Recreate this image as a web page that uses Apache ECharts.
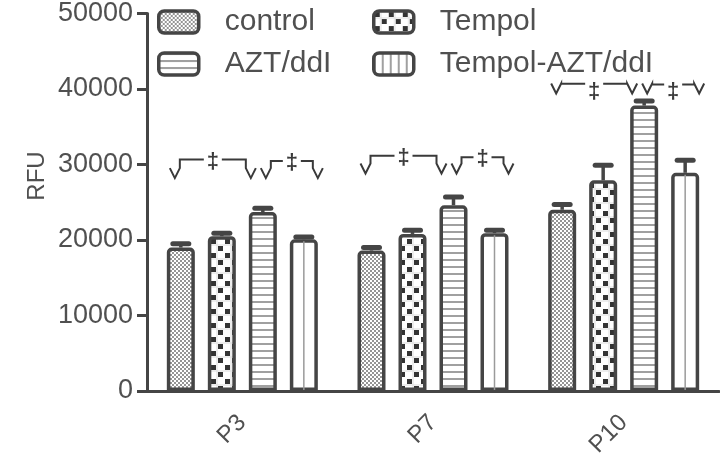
<!DOCTYPE html>
<html><head><meta charset="utf-8">
<script src="https://cdn.jsdelivr.net/npm/echarts@6/dist/echarts.min.js"></script>
<style>html,body{margin:0;padding:0;background:#fff}#c{width:720px;height:465px}</style>
</head><body><div id="c"></div>
<script>
// ---------- data ----------
const categories = ['P3', 'P7', 'P10'];
const seriesNames = ['control', 'Tempol', 'AZT/ddI', 'Tempol-AZT/ddI'];
const controlVals   = [19000, 18600, 24000];
const tempolVals    = [20500, 20800, 27900];
const aztVals       = [23700, 24600, 37800];
const tempolAztVals = [20100, 20900, 28900];
const controlSD   = [500, 400, 700];
const tempolSD    = [400, 500, 2000];
const aztSD       = [500, 1100, 600];
const tempolAztSD = [300, 400, 1650];
const yMin = 0, yMax = 50000, yStep = 10000;
const yAxisTitle = 'RFU';
// significance brackets (category index, from bar, to bar, levels in RFU)
const sigCategory = [0, 0, 1, 1, 2, 2];
const sigFrom     = [0, 2, 0, 2, 0, 2];
const sigTo       = [2, 3, 2, 3, 2, 3];
const sigLine     = [30650, 30450, 31150, 30950, 40700, 40600];
const sigTip      = [28200, 28200, 28800, 28800, 39400, 39400];
const sigMark     = [30300, 30200, 30900, 30800, 39600, 39600];
const sigSymbol   = '\u2021';

// ---------- styles ----------
const DARK = '#454545';
const TEXT = '#505050';
const FONT = 'Liberation Sans, Arial, Helvetica, sans-serif';
const BAR_W = 28, BAR_GAP = 13;

function makePattern(w, h, draw) {
  const cv = document.createElement('canvas');
  cv.width = w; cv.height = h;
  const ctx = cv.getContext('2d');
  ctx.fillStyle = '#fff'; ctx.fillRect(0, 0, w, h);
  draw(ctx);
  return { image: cv, repeat: 'repeat' };
}
const patControl = makePattern(4, 4, c => {
  c.fillStyle = '#959595'; c.fillRect(0, 0, 2, 2); c.fillRect(2, 2, 2, 2);
});
const patTempol = makePattern(14, 14, c => {
  c.fillStyle = '#dcdcdc'; c.fillRect(0, 6.5, 14, 1); c.fillRect(6.5, 0, 1, 14);
  c.fillStyle = '#333'; c.fillRect(1, 1, 5, 5); c.fillRect(8, 8, 5, 5);
});
const patAzt = makePattern(8, 7, c => {
  c.fillStyle = '#a0a0a0'; c.fillRect(0, 0, 8, 2);
});
const patTA = makePattern(8, 8, c => {
  c.fillStyle = '#a0a0a0'; c.fillRect(0, 0, 2, 8);
});
const fills = [patControl, patTempol, patAzt, '#ffffff'];
const legendFills = [patControl, patTempol, patAzt, patTA];
const valsList = [controlVals, tempolVals, aztVals, tempolAztVals];
const sdList = [controlSD, tempolSD, aztSD, tempolAztSD];

function barOffset(i) { return (i - 1.5) * (BAR_W + BAR_GAP); }

const chart = echarts.init(document.getElementById('c'), null, { renderer: 'canvas' });

const barSeries = seriesNames.map((n, i) => ({
  name: n, type: 'bar', data: valsList[i], barWidth: BAR_W, barGap: (BAR_GAP / BAR_W * 100) + '%',
  z: 3,
  itemStyle: { color: fills[i], borderColor: DARK, borderWidth: 3.5, borderRadius: [3, 3, 0, 0] },
  emphasis: { disabled: true }
}));

const errSeries = seriesNames.map((n, si) => ({
  type: 'custom', z: 2, silent: true,
  data: categories.map((c, i) => [i, valsList[si][i], sdList[si][i]]),
  renderItem: (params, api) => {
    const ci = api.value(0), v = api.value(1), e = api.value(2);
    const base = api.coord([ci, v]); const top = api.coord([ci, v + e]);
    const x = base[0] + barOffset(si);
    return { type: 'group', children: [
      { type: 'line', shape: { x1: x, y1: base[1], x2: x, y2: top[1] }, style: { stroke: DARK, lineWidth: 3.5 } },
      { type: 'line', shape: { x1: x - 8, y1: top[1], x2: x + 8, y2: top[1] }, style: { stroke: DARK, lineWidth: 5, lineCap: 'round' } }
    ]};
  }
}));

// single centre stripe of Tempol-AZT/ddI bars
const stripeSeries = {
  type: 'custom', z: 4, silent: true,
  data: categories.map((c, i) => [i, tempolAztVals[i]]),
  renderItem: (params, api) => {
    const base = api.coord([api.value(0), api.value(1)]);
    const zero = api.coord([api.value(0), 0]);
    const x = base[0] + barOffset(3);
    return { type: 'line', shape: { x1: x, y1: base[1] + 2, x2: x, y2: zero[1] - 1 }, style: { stroke: '#9a9a9a', lineWidth: 1.5 } };
  }
};

const sigSeries = {
  type: 'custom', z: 5, silent: true,
  data: sigCategory.map((c, i) => [c, sigFrom[i], sigTo[i], sigLine[i], sigTip[i], sigMark[i]]),
  renderItem: (params, api) => {
    const ci = api.value(0), f = api.value(1), t = api.value(2);
    const lineY = api.coord([ci, api.value(3)])[1];
    const tipY = api.coord([ci, api.value(4)])[1];
    const markY = api.coord([ci, api.value(5)])[1];
    const cx = api.coord([ci, 0])[0];
    const first = (f === 0);
    const xl = cx + barOffset(f) + (first ? -6 : 3);
    const xr = cx + barOffset(t) + (first ? -12 : 14);
    const mid = (xl + xr) / 2;
    const st = { stroke: '#3a3a3a', lineWidth: 2, fill: null };
    const vh = 10, vw = 5;
    return { type: 'group', children: [
      { type: 'polyline', shape: { points: [[xl - vw, tipY - vh], [xl, tipY], [xl + vw, tipY - vh], [xl + vw, lineY], [mid - 9, lineY]] }, style: st },
      { type: 'polyline', shape: { points: [[mid + 9, lineY], [xr - vw, lineY], [xr - vw, tipY - vh], [xr, tipY], [xr + vw, tipY - vh]] }, style: st },
      { type: 'text', style: { text: sigSymbol, x: mid, y: markY, fontSize: 22, fontWeight: 'bold', fontFamily: FONT, fill: '#3a3a3a', align: 'center', verticalAlign: 'middle' } }
    ]};
  }
};

function legendDef(idx, left) {
  return {
    orient: 'vertical', left: left, top: 7, padding: 0, itemWidth: 40, itemHeight: 22, itemGap: 12,
    selectedMode: false, icon: 'roundRect',
    textStyle: { fontSize: 30, color: TEXT, fontFamily: FONT, padding: [0, 0, 0, 21] },
    data: idx.map(i => ({ name: seriesNames[i], icon: 'roundRect',
      itemStyle: { color: legendFills[i], borderColor: DARK, borderWidth: 3.5 } }))
  };
}

chart.setOption({
  animation: false,
  backgroundColor: '#fff',
  grid: { left: 147, right: 1, top: 13, bottom: 74, containLabel: false },
  legend: [legendDef([0, 2], 157), legendDef([1, 3], 372)],
  xAxis: {
    type: 'category', data: categories,
    axisLine: { lineStyle: { color: DARK, width: 3 } },
    axisTick: { alignWithLabel: true, length: 11, lineStyle: { color: DARK, width: 3 } },
    axisLabel: { rotate: 45, fontSize: 24, color: TEXT, fontFamily: FONT, margin: 28 }
  },
  yAxis: {
    type: 'value', min: yMin, max: yMax, interval: yStep,
    splitLine: { show: false },
    axisLine: { show: true, lineStyle: { color: DARK, width: 3 } },
    axisTick: { show: true, length: 10, lineStyle: { color: DARK, width: 3 } },
    axisLabel: { fontSize: 27, color: TEXT, fontFamily: FONT, margin: 14, formatter: v => String(v) }
  },
  graphic: [{
    type: 'text', x: 37, y: 176, rotation: Math.PI / 2,
    style: { text: yAxisTitle, fontSize: 24, fill: TEXT, fontFamily: FONT, align: 'center', verticalAlign: 'middle' }
  }],
  series: [...barSeries, ...errSeries, stripeSeries, sigSeries]
});
</script>
</body></html>
